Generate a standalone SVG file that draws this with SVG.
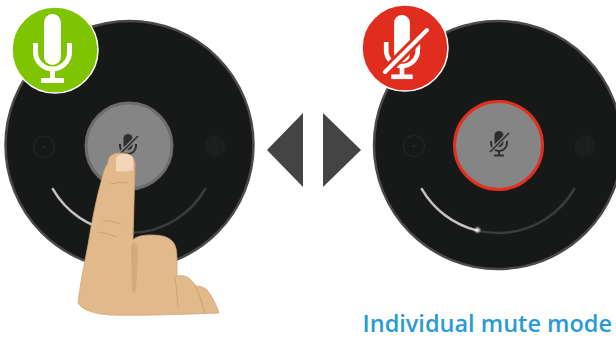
<svg xmlns="http://www.w3.org/2000/svg" width="616" height="339" viewBox="0 0 616 339">
  <style>
    .device { fill: #171918; stroke: #4a4a4a; stroke-width: 2.5; }
    .button { fill: #858585; }
    .arc-dim { fill: none; stroke: #3b3c3c; stroke-width: 2.5; stroke-linecap: round; }
    .arc-lit { fill: none; stroke: #c4c4c4; stroke-width: 2.5; stroke-linecap: round; }
    .cam { fill: none; stroke: #242525; stroke-width: 1.2; }
    .arrow { fill: #444444; }
    .crease { fill: none; stroke: #c69c72; stroke-width: 0.8; stroke-linecap: round; }
    .label { font-family: "Open Sans", "Noto Sans", sans-serif; font-weight: 600; font-size: 23.5px; fill: #2a9ad5; }
  </style>
  <defs>
    <pattern id="grille" width="2.2" height="2.2" patternUnits="userSpaceOnUse">
      <rect width="2.2" height="2.2" fill="#1a1b1b"/>
      <circle cx="1.1" cy="1.1" r="0.6" fill="#282929"/>
    </pattern>
    <radialGradient id="glow">
      <stop offset="0" stop-color="#ffffff"/>
      <stop offset="1" stop-color="#ffffff" stop-opacity="0"/>
    </radialGradient>
    <!-- large microphone glyph, centred on (0,0) -->
    <g id="micBig" fill="#ffffff">
      <rect x="-8.5" y="-34.5" width="17" height="51" rx="8.5"/>
      <path d="M-17,-5.5 V3.5 A17,17 0 0 0 17,3.5 V-5.5" fill="none" stroke="#ffffff" stroke-width="5"/>
      <rect x="-2.5" y="21" width="5" height="9"/>
      <rect x="-11.5" y="29.5" width="23" height="5"/>
    </g>
    <!-- small muted microphone glyph, centred on (0,0) -->
    <g id="micSmall">
      <rect x="-4.5" y="-12" width="9" height="16" rx="4.5" fill="#2e2e2e"/>
      <path d="M-8,-2 V0 A8,8 0 0 0 8,0 V-2" fill="none" stroke="#2e2e2e" stroke-width="2"/>
      <line x1="0" y1="8" x2="0" y2="12" stroke="#2e2e2e" stroke-width="2"/>
      <line x1="-5" y1="12.5" x2="5" y2="12.5" stroke="#2e2e2e" stroke-width="2"/>
      <line x1="10" y1="-10" x2="-9" y2="9" stroke="#858585" stroke-width="4"/>
      <line x1="10" y1="-10" x2="-9" y2="9" stroke="#2e2e2e" stroke-width="1.6"/>
    </g>
  </defs>

  <!-- left speakerphone: active -->
  <g id="device-left">
    <circle class="device" cx="129.5" cy="145" r="124"/>
    <g id="cam-left-a">
      <circle class="cam" cx="44" cy="147" r="10.5"/>
      <circle cx="44" cy="147" r="1.2" fill="#2a2b2b"/>
    </g>
    <circle cx="215" cy="146" r="10.5" fill="url(#grille)"/>
    <path class="arc-dim" d="M52.8,189 A88,88 0 0 0 205.2,189"/>
    <path class="arc-lit" d="M52.8,189 A88,88 0 0 0 113.7,231.7"/>
    <circle class="button" cx="129" cy="146" r="43" stroke="#6c6c6c" stroke-width="3"/>
    <use href="#micSmall" transform="translate(128,146)"/>
  </g>

  <!-- right speakerphone: muted -->
  <g id="device-right">
    <circle class="device" cx="498" cy="145" r="124"/>
    <g id="cam-right-a">
      <circle class="cam" cx="414" cy="146" r="10.5"/>
      <circle cx="414" cy="146" r="1.2" fill="#2a2b2b"/>
    </g>
    <circle cx="585" cy="146" r="10.5" fill="url(#grille)"/>
    <path class="arc-dim" d="M421.8,189 A88,88 0 0 0 574.2,189"/>
    <path class="arc-lit" d="M421.8,189 A88,88 0 0 0 476.7,230.4"/>
    <circle cx="477.5" cy="230" r="4" fill="url(#glow)"/>
    <circle class="button" cx="498.5" cy="145.5" r="44" stroke="#e2301f" stroke-width="3"/>
    <use href="#micSmall" transform="translate(499,143)"/>
  </g>

  <!-- status badges -->
  <g id="badge-live">
    <circle cx="55" cy="50" r="43" fill="#7ec400" stroke="#ffffff" stroke-width="1.5"/>
    <use href="#micBig" transform="translate(52.5,48.5)"/>
  </g>
  <g id="badge-muted">
    <circle cx="405" cy="48" r="43" fill="#e02d1d" stroke="#ffffff" stroke-width="1.5"/>
    <use href="#micBig" transform="translate(402,47) scale(0.93)"/>
    <line x1="427" y1="30" x2="385" y2="72" stroke="#e02d1d" stroke-width="10" stroke-linecap="round"/>
    <line x1="427" y1="30" x2="385" y2="72" stroke="#ffffff" stroke-width="4" stroke-linecap="round"/>
  </g>

  <!-- toggle arrows -->
  <g id="connectors">
    <polygon class="arrow" points="267,150 303,113 303,187"/>
    <polygon class="arrow" points="323,113 361,150 323,187"/>
  </g>

  <!-- hand pressing the centre button -->
  <g id="hand">
    <path d="M108,163 C108,156 113,153 121,153 C130,153 135,157 135,165 L133,240 C134,238 140,235 150,235 C160,235 168,236 173,242 C177,247 177,255 177,262 L177,276 C182,275 187,276 190,279 C193,282 195,285 196,286 C200,286 204,287 207,290 C212,296 216,304 219,313 C190,314 140,316 110,315 C95,314 82,310 78,303 C80,285 84,265 88,245 C92,220 97,195 103,175 C104,170 106,166 108,163 Z" fill="#e2b98a" stroke="#d3a677" stroke-width="0.8"/>
    <path d="M116,158 Q117,154 124,154 Q132,154 133,158 L133,170 Q125,173 116,171 Z" fill="#f3d6b9"/>
    <path d="M133,243 C136,242 138,246 138,256 L136,290 C135.5,294 132,294 132,290 L131,247 Z" fill="#d4a97c"/>
    <path class="crease" d="M110,184 Q119,181 128,183"/>
    <path class="crease" d="M103,221 Q112,220 121,224"/>
    <path class="crease" d="M97,232 Q107,233 117,237"/>
    <path class="crease" d="M175,277 Q177,292 178,307"/>
    <path class="crease" d="M195,285 Q201,298 205,313"/>
  </g>

  <text class="label" x="612" y="332" text-anchor="end">Individual mute mode</text>
</svg>
